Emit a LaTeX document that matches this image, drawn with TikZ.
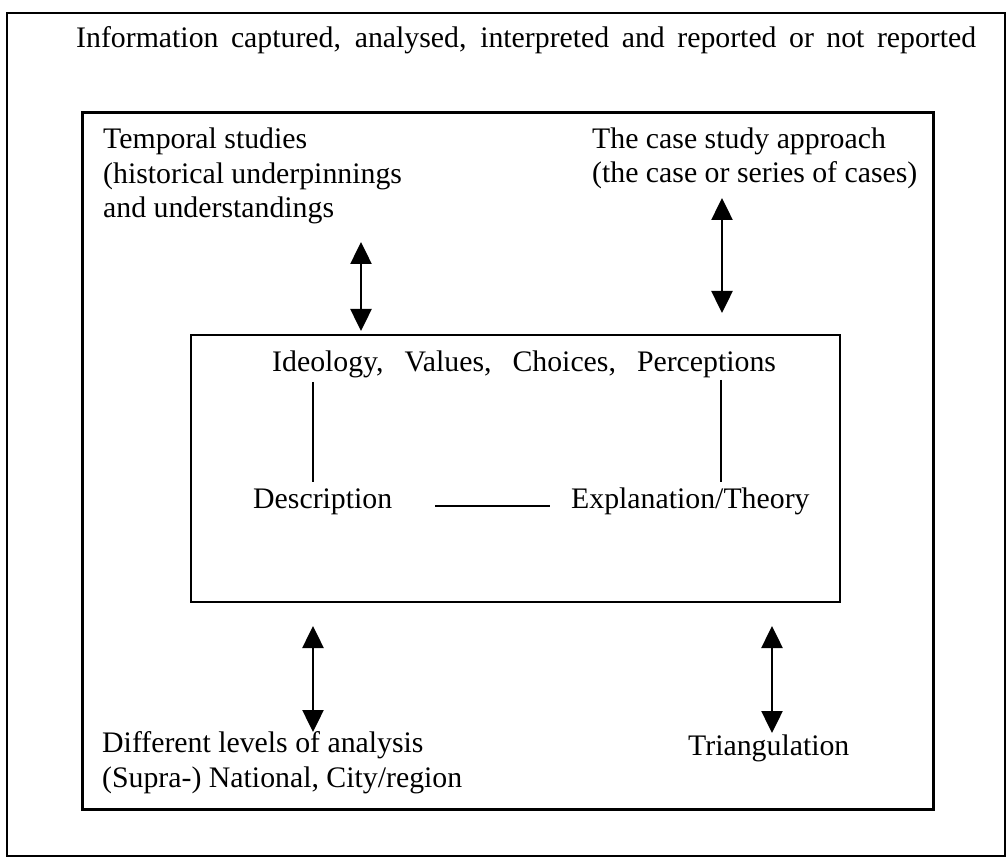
\documentclass[tikz,border=0pt]{standalone}
\usepackage{fontspec}
\setmainfont{Liberation Serif}
\usetikzlibrary{arrows.meta}
\begin{document}
\begin{tikzpicture}[x=1pt,y=-1pt,
  txt/.style={inner sep=0pt, anchor=base west, align=left,
    font=\fontsize{29.8}{34.5}\selectfont},
  boxframe/.style={draw=black, fill=none},
  biarrow/.style={line width=2.5pt,
    {Triangle[width=21pt,length=22pt]}-{Triangle[width=21pt,length=22pt]}},
  link/.style={line width=2pt}
]
\useasboundingbox (0,0) rectangle (1007,858);

% frames: outer, middle and inner
\node[boxframe, line width=1.8pt, inner sep=0pt, minimum width=998pt, minimum height=843pt] (outer) at (506,434.5) {};
\node[boxframe, line width=3pt, inner sep=0pt, minimum width=851pt, minimum height=696pt] (middle) at (507.5,461) {};
\node[boxframe, line width=2pt, inner sep=0pt, minimum width=649pt, minimum height=267pt] (inner) at (515.5,468.5) {};

% texts (multi-line nodes are placed by the baseline of their last line)
\node[txt] (title) at (76,48) {\makebox[900pt][s]{Information captured, analysed, interpreted and reported or not reported}};
\node[txt] (temporal) at (103,218) {Temporal studies\\(historical underpinnings\\and understandings};
\node[txt] (casestudy) at (592,183) {The case study approach\\(the case or series of cases)};
\node[txt] (ivcp) at (272,372) {Ideology,\hspace{21pt}Values,\hspace{21pt}Choices,\hspace{21pt}Perceptions};
\node[txt] (desc) at (253,508) {Description};
\node[txt] (expl) at (571,508) {Explanation/Theory};
\node[txt] (levels) at (102,787) {Different levels of analysis\\(Supra-) National, City/region};
\node[txt] (tri) at (688,755) {Triangulation};

% arrow end points
\coordinate (tlA) at (361,242);
\coordinate (tlB) at (361,331);
\coordinate (trA) at (722,198);
\coordinate (trB) at (722,313);
\coordinate (blA) at (313,626);
\coordinate (blB) at (313,732);
\coordinate (brA) at (772,626);
\coordinate (brB) at (772,733);

% links inside the inner box
\coordinate (lA) at (313,382);
\coordinate (lB) at (313,482);
\coordinate (rA) at (721,380);
\coordinate (rB) at (721,482);

\draw[biarrow] (tlA) -- (tlB);
\draw[biarrow] (trA) -- (trB);
\draw[biarrow] (blA) -- (blB);
\draw[biarrow] (brA) -- (brB);

\draw[link] (lA) -- (lB);
\draw[link] (rA) -- (rB);
\draw[link] ([xshift=43pt]desc.mid east) -- ([xshift=-21pt]expl.mid west);
\end{tikzpicture}
\end{document}
